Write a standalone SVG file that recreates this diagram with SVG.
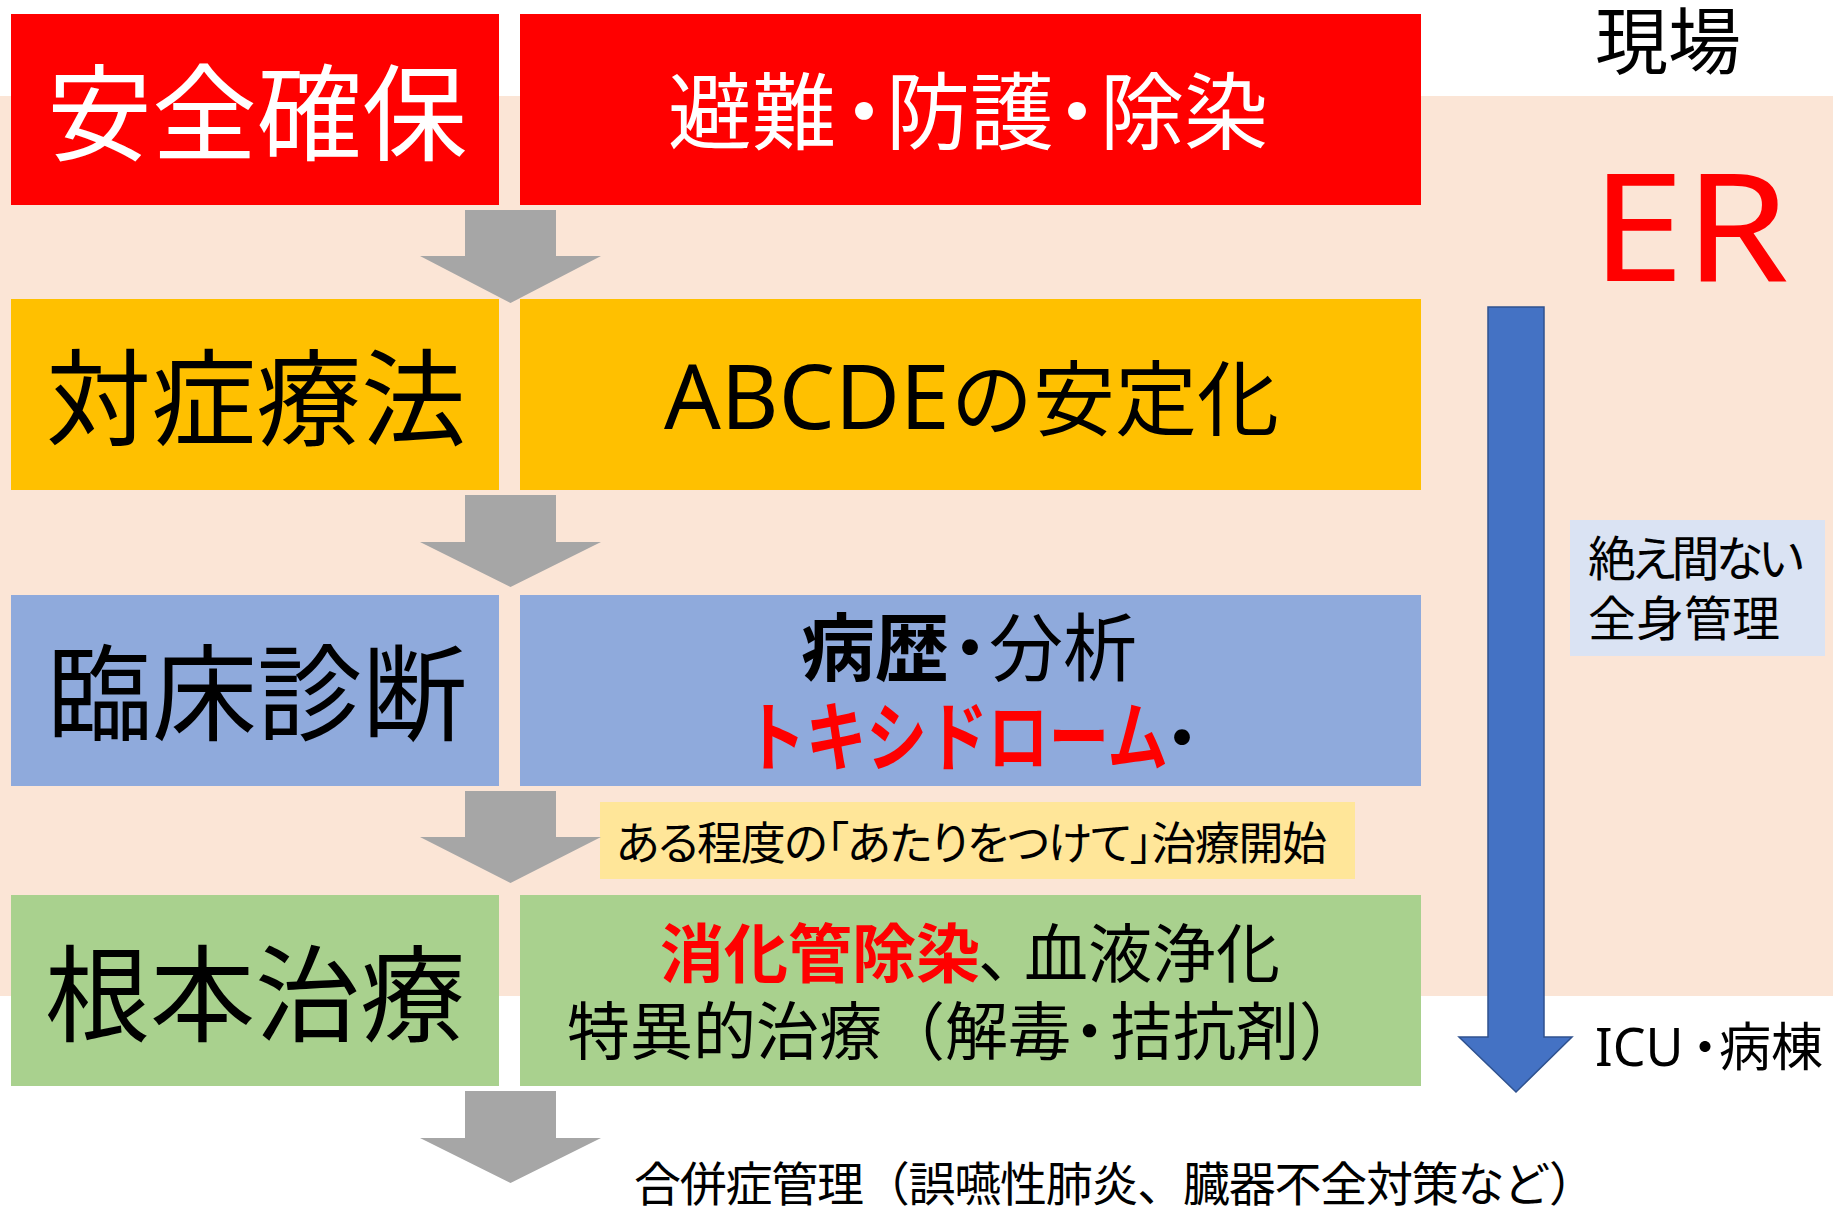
<svg xmlns="http://www.w3.org/2000/svg" width="1833" height="1210" viewBox="0 0 1833 1210">
<style>
text { font-family: "Noto Sans CJK JP", "Noto Sans", sans-serif; fill: #000000; }
.lat { font-family: "Noto Sans", "Noto Sans CJK JP", sans-serif; }
.b { font-weight: 700; }
.palt { font-feature-settings: "palt" 1; }
.w { fill: #FFFFFF; }
.r { fill: #FF0000; }
.arrow { fill: #A6A6A6; }
.red { fill: #FF0000; }
.org { fill: #FFC000; }
.blu { fill: #8FAADC; }
.grn { fill: #A9D18E; }
</style>
<rect x="0" y="0" width="1833" height="1210" fill="#FFFFFF"/>
<rect id="er-band" x="0" y="96" width="1833" height="900" fill="#FBE5D6"/>

<g id="n-safety">
<rect class="red" x="11" y="14" width="488" height="191"/>
<text class="w" x="257" y="151.5" font-size="105" text-anchor="middle">安全確保</text>
</g>
<g id="n-evac">
<rect class="red" x="520" y="14" width="901" height="191"/>
<text class="w" y="143" font-size="84"><tspan x="668">避難</tspan><tspan x="822">・</tspan><tspan x="886">防護</tspan><tspan x="1035">・</tspan><tspan x="1100">除染</tspan></text>
</g>

<g id="n-symptomatic">
<rect class="org" x="11" y="299" width="488" height="191"/>
<text x="256" y="437" font-size="105" text-anchor="middle">対症療法</text>
</g>
<g id="n-abcde">
<rect class="org" x="520" y="299" width="901" height="191"/>
<text class="lat" y="429"><tspan x="664" font-size="89">ABCDE</tspan><tspan x="951" font-size="82">の安定化</tspan></text>
</g>

<g id="n-diagnosis">
<rect class="blu" x="11" y="595" width="488" height="191"/>
<text x="257" y="732" font-size="105" text-anchor="middle">臨床診断</text>
</g>
<g id="n-history">
<rect class="blu" x="520" y="595" width="901" height="191"/>
<text y="675" font-size="74"><tspan x="801" class="b">病歴</tspan><tspan x="933">・</tspan><tspan x="989">分析</tspan></text>
<text class="r b" x="745" y="765" font-size="76" textLength="423" lengthAdjust="spacingAndGlyphs">トキシドローム</text>
<text x="1145" y="765" font-size="74">・</text>
</g>

<g id="n-label">
<rect x="600" y="802" width="755" height="77" fill="#FFE699"/>
<text class="palt" x="616" y="860" font-size="45" textLength="711" lengthAdjust="spacing">ある程度の「あたりをつけて」治療開始</text>
</g>

<g id="n-root">
<rect class="grn" x="11" y="895" width="488" height="191"/>
<text x="255" y="1033" font-size="105" text-anchor="middle">根本治療</text>
</g>
<g id="n-specific">
<rect class="grn" x="520" y="895" width="901" height="191"/>
<text y="977" font-size="64"><tspan x="660" class="r b">消化管除染</tspan><tspan x="978">、</tspan><tspan x="1024">血液浄化</tspan></text>
<text y="1054" font-size="63"><tspan x="567">特異的治療（解毒</tspan><tspan x="1058">・</tspan><tspan x="1110">拮抗剤）</tspan></text>
</g>

<g id="n-field">
<text x="1595" y="68" font-size="73">現場</text>
</g>
<g id="n-er">
<text class="lat r" x="1591" y="281" font-size="150" textLength="198" lengthAdjust="spacingAndGlyphs">ER</text>
</g>
<g id="n-continuous">
<rect x="1570" y="520" width="255" height="136" fill="#DAE3F3"/>
<text class="palt" x="1588" y="576" font-size="48" textLength="216" lengthAdjust="spacing">絶え間ない</text>
<text x="1588" y="636" font-size="48">全身管理</text>
</g>
<g id="n-icu">
<text class="lat" y="1066" font-size="52"><tspan x="1595">ICU</tspan><tspan x="1679">・</tspan><tspan x="1719">病棟</tspan></text>
</g>
<g id="n-complication">
<text x="634" y="1201" font-size="47" textLength="962" lengthAdjust="spacing">合併症管理（誤嚥性肺炎、臓器不全対策など）</text>
</g>

<g id="connectors">
<polygon class="arrow" points="465,210 556,210 556,256 601,256 510.5,303 420,256 465,256"/>
<polygon class="arrow" points="465,495 556,495 556,542 601,542 510.5,587 420,542 465,542"/>
<polygon class="arrow" points="465,791 556,791 556,837 601,837 510.5,883 420,837 465,837"/>
<polygon class="arrow" points="465,1091 556,1091 556,1138 601,1138 510.5,1183 420,1138 465,1138"/>
<polygon id="care-flow" points="1488,307 1544,307 1544,1037 1572,1037 1516,1092 1459,1037 1488,1037" fill="#4472C4" stroke="#2F528F" stroke-width="1.5"/>
</g>
</svg>
